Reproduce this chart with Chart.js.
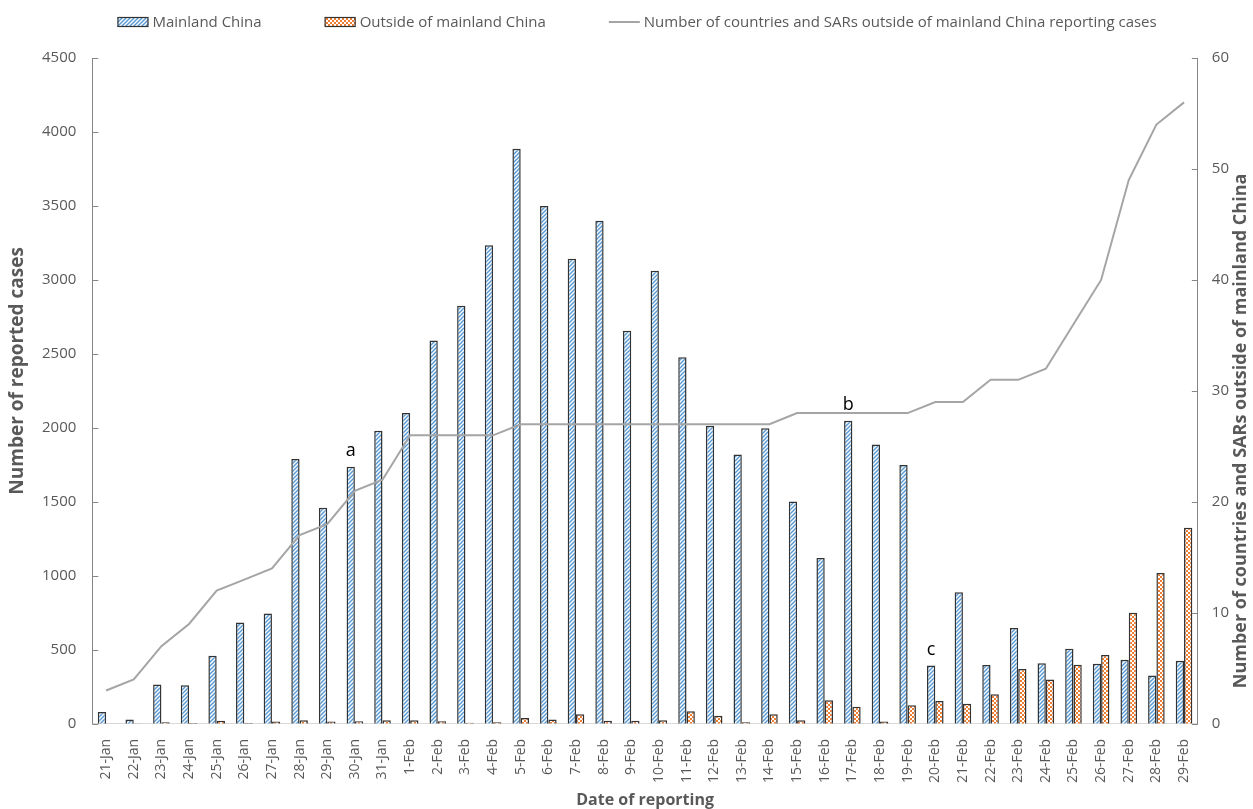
<!DOCTYPE html>
<html><head><meta charset="utf-8">
<script src="https://cdn.jsdelivr.net/npm/chart.js@4"></script>
<style>html,body{margin:0;padding:0;background:#fff}#wrap{width:1253px;height:809px;position:relative}</style>
</head><body><div id="wrap"><canvas id="c" width="1253" height="809"></canvas></div>
<script>
const dates = ['21-Jan','22-Jan','23-Jan','24-Jan','25-Jan','26-Jan','27-Jan','28-Jan','29-Jan','30-Jan','31-Jan',
  '1-Feb','2-Feb','3-Feb','4-Feb','5-Feb','6-Feb','7-Feb','8-Feb','9-Feb','10-Feb','11-Feb','12-Feb','13-Feb','14-Feb',
  '15-Feb','16-Feb','17-Feb','18-Feb','19-Feb','20-Feb','21-Feb','22-Feb','23-Feb','24-Feb','25-Feb','26-Feb','27-Feb','28-Feb','29-Feb'];
const mainland = [80,30,265,260,460,685,745,1790,1460,1737,1980,
  2100,2590,2825,3235,3887,3500,3143,3400,2656,3062,2478,2015,1820,1998,
  1503,1121,2048,1888,1749,394,889,397,648,409,508,406,433,327,427];
const outside = [3,2,10,5,20,6,15,25,15,17,25,
  25,17,8,10,40,30,65,20,20,25,85,55,10,65,
  25,160,115,15,125,155,135,200,370,300,400,465,750,1020,1325];
const countries = [3,4,7,9,12,13,14,17,18,21,22,
  26,26,26,26,27,27,27,27,27,27,27,27,27,27,
  28,28,28,28,28,29,29,31,31,32,36,40,49,54,56];
const seriesNames = ['Mainland China','Outside of mainland China','Number of countries and SARs outside of mainland China reporting cases'];
const xTitle = 'Date of reporting';
const yTitle = 'Number of reported cases';
const y1Title = 'Number of countries and SARs outside of mainland China';
const leftMax = 4500, leftStep = 500;
const rightMax = 60, rightStep = 10;
const annotationDates = ['30-Jan','17-Feb','20-Feb'];
const annotationLabels = ['a','b','c'];

const FONT = "'Open Sans', 'Noto Sans', sans-serif";
const GREY = '#595959';
const BORDER = '#333333';
const LINE = '#A5A5A5';

function stripePattern(){
  const c = document.createElement('canvas'); c.width = 4; c.height = 4;
  const x = c.getContext('2d');
  x.fillStyle = '#ffffff'; x.fillRect(0,0,4,4);
  x.strokeStyle = '#5B9BD5'; x.lineWidth = 1.5;
  x.beginPath();
  x.moveTo(-1,5); x.lineTo(5,-1);
  x.moveTo(-1,1); x.lineTo(1,-1);
  x.moveTo(3,5); x.lineTo(5,3);
  x.stroke();
  return x.createPattern(c,'repeat');
}
function dotPattern(){
  const c = document.createElement('canvas'); c.width = 4; c.height = 4;
  const x = c.getContext('2d');
  x.fillStyle = '#ffffff'; x.fillRect(0,0,4,4);
  x.fillStyle = '#ED7D31';
  x.fillRect(0,0,2,2); x.fillRect(2,2,2,2);
  return x.createPattern(c,'repeat');
}
const stripeFill = stripePattern();
const dotFill = dotPattern();

const inwardTicks = {
  id:'inwardTicks',
  afterDraw(chart){
    const ctx = chart.ctx;
    ctx.save();
    ctx.strokeStyle = '#868686'; ctx.lineWidth = 1;
    const ys = chart.scales.y, yr = chart.scales.y1;
    ys.ticks.forEach(t => { const p = Math.round(ys.getPixelForValue(t.value))+0.5; ctx.beginPath(); ctx.moveTo(ys.right, p); ctx.lineTo(ys.right+6, p); ctx.stroke(); });
    yr.ticks.forEach(t => { const p = Math.round(yr.getPixelForValue(t.value))+0.5; ctx.beginPath(); ctx.moveTo(yr.left, p); ctx.lineTo(yr.left-6, p); ctx.stroke(); });
    ctx.restore();
  }
};
const letters = {
  id:'letters',
  afterDatasetsDraw(chart){
    const ctx = chart.ctx, meta = chart.getDatasetMeta(0);
    ctx.save();
    ctx.fillStyle = '#000'; ctx.font = "18px " + FONT; ctx.textAlign = 'center'; ctx.textBaseline = 'middle';
    annotationDates.forEach((d,i) => {
      const el = meta.data[dates.indexOf(d)];
      ctx.fillText(annotationLabels[i], el.x, el.y - 16);
    });
    ctx.restore();
  }
};
const axisTitles = {
  id:'axisTitles',
  afterDraw(chart){
    const ctx = chart.ctx, ca = chart.chartArea;
    ctx.save();
    ctx.fillStyle = GREY; ctx.textAlign = 'center'; ctx.textBaseline = 'middle';
    ctx.font = "bold 16px " + FONT;
    ctx.fillText(xTitle, (ca.left + ca.right)/2, chart.height - 9);
    ctx.save();
    ctx.translate(18, (ca.top + ca.bottom)/2 - 20);
    ctx.rotate(-Math.PI/2);
    ctx.font = "bold 19px " + FONT;
    ctx.fillText(yTitle, 0, 0);
    ctx.restore();
    ctx.save();
    ctx.translate(chart.width - 12, (ca.top + ca.bottom)/2 + 40);
    ctx.rotate(-Math.PI/2);
    ctx.font = "bold 18px " + FONT;
    ctx.fillText(y1Title, 0, 0);
    ctx.restore();
    ctx.restore();
  }
};
const topLegend = {
  id:'topLegend',
  afterDraw(chart){
    const ctx = chart.ctx;
    ctx.save();
    ctx.font = "15px " + FONT;
    ctx.textBaseline = 'middle';
    const boxW = 31, gapTxt = 4, gapItem = 63, y = 22;
    const widths = seriesNames.map(n => ctx.measureText(n).width);
    const total = widths.reduce((a,w)=>a+boxW+gapTxt+w,0) + gapItem*(seriesNames.length-1);
    const ca = chart.chartArea;
    let x = (ca.left + ca.right)/2 - 8 - total/2;
    seriesNames.forEach((n,i) => {
      if (i < 2) {
        ctx.fillStyle = i === 0 ? stripeFill : dotFill;
        ctx.fillRect(x, y-5, boxW, 10);
        ctx.strokeStyle = BORDER; ctx.lineWidth = 1.2;
        ctx.strokeRect(x+0.5, y-5+0.5, boxW-1, 9);
      } else {
        ctx.strokeStyle = LINE; ctx.lineWidth = 2;
        ctx.beginPath(); ctx.moveTo(x, y); ctx.lineTo(x+boxW, y); ctx.stroke();
      }
      x += boxW + gapTxt;
      ctx.fillStyle = GREY; ctx.textAlign = 'left';
      ctx.fillText(n, x, y+1);
      x += widths[i] + gapItem;
    });
    ctx.restore();
  }
};

const ctx = document.getElementById('c').getContext('2d');
new Chart(ctx, {
  type:'bar',
  data:{
    labels: dates,
    datasets:[
      {label:seriesNames[0], data:mainland, backgroundColor:stripeFill, borderColor:BORDER, borderWidth:1.5,
       categoryPercentage:0.6, barPercentage:1.0, yAxisID:'y', order:2},
      {label:seriesNames[1], data:outside, backgroundColor:dotFill, borderColor:BORDER, borderWidth:1.5,
       categoryPercentage:0.6, barPercentage:1.0, yAxisID:'y', order:2},
      {type:'line', label:seriesNames[2], data:countries, borderColor:LINE, backgroundColor:LINE, borderWidth:2,
       pointRadius:0, pointHoverRadius:0, tension:0, yAxisID:'y1', order:1}
    ]
  },
  options:{
    responsive:false, animation:false, devicePixelRatio:1,
    layout:{padding:{left:26,right:10,top:58,bottom:11}},
    plugins:{ legend:{display:false}, tooltip:{enabled:false} },
    scales:{
      x:{offset:true, grid:{display:false, drawTicks:false}, border:{color:'#D9D9D9'},
         ticks:{autoSkip:false, minRotation:90, maxRotation:90, color:GREY, font:{family:FONT,size:14}, padding:15}},
      y:{position:'left', min:0, max:leftMax, grid:{display:false, drawTicks:false}, border:{color:'#868686'},
         ticks:{stepSize:leftStep, color:GREY, font:{family:FONT,size:15}, padding:16, callback:v => String(v)}},
      y1:{position:'right', min:0, max:rightMax, grid:{display:false, drawTicks:false}, border:{color:'#868686'},
         ticks:{stepSize:rightStep, color:GREY, font:{family:FONT,size:15}, padding:14, callback:v => String(v)}}
    }
  },
  plugins:[inwardTicks, letters, axisTitles, topLegend]
});
</script></body></html>
